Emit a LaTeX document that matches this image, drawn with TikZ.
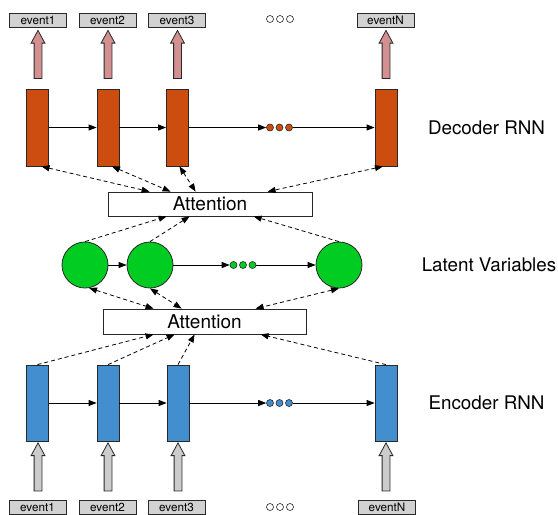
\documentclass[tikz,border=0pt]{standalone}
\usepackage{fontspec}
\setmainfont{TeX Gyre Heros}
\usetikzlibrary{arrows.meta,shapes.arrows}

\definecolor{decfill}{RGB}{205,76,16}
\definecolor{encfill}{RGB}{66,142,206}
\definecolor{latfill}{RGB}{0,204,34}
\definecolor{outpink}{RGB}{210,144,144}
\definecolor{ingray}{RGB}{204,204,204}
\definecolor{boxgray}{RGB}{210,210,210}
\definecolor{edge}{RGB}{40,40,40}

\begin{document}
\begin{tikzpicture}[x=1pt, y=-1pt, line width=0.8pt,
  every node/.style={inner sep=0pt},
  event/.style={draw=edge, fill=boxgray, minimum width=57pt, minimum height=14pt, font=\fontsize{11.7}{12}\selectfont},
  deccell/.style={draw=edge, fill=decfill, minimum width=22pt, minimum height=77pt},
  enccell/.style={draw=edge, fill=encfill, minimum width=22pt, minimum height=76pt},
  latent/.style={circle, draw=edge, fill=latfill, minimum size=46pt},
  attbox/.style={draw=edge, fill=white, font=\fontsize{19}{20}\selectfont},
  label/.style={font=\fontsize{18.8}{20}\selectfont},
  dot/.style={circle, draw=edge, line width=0.6pt, minimum size=7pt},
  bigarrow/.style={single arrow, draw=edge, rotate=90, minimum height=48pt,
    inner xsep=0pt, inner ysep=3.5pt,
    single arrow head extend=3pt, single arrow tip angle=57},
  flow/.style={-{Triangle[length=8pt,width=6pt]}},
  att/.style={dashed, dash pattern=on 4pt off 3pt, -{Triangle[length=8pt,width=6pt]}},
  attboth/.style={att, {Triangle[length=8pt,width=6pt]}-{Triangle[length=8pt,width=6pt]}}]

  \useasboundingbox (0, 0) rectangle (558, 515);

  % outputs
  \node[event] (out1) at ( 38, 20) {event1};
  \node[event] (out2) at (107.5, 20) {event2};
  \node[event] (out3) at (177, 20) {event3};
  \node[event] (outN) at (385.5, 20) {eventN};
  \node[dot] (to1) at (270, 19) {};
  \node[dot] (to2) at (280, 19) {};
  \node[dot] (to3) at (290, 19) {};

  \node[bigarrow, fill=outpink] (oa1) at ( 38, 58) {};
  \node[bigarrow, fill=outpink] (oa2) at (108, 58) {};
  \node[bigarrow, fill=outpink] (oa3) at (177.5, 58) {};
  \node[bigarrow, fill=outpink] (oaN) at (386, 58) {};

  % decoder
  \node[deccell] (dec1) at ( 37.5, 127.5) {};
  \node[deccell] (dec2) at (108, 127.5) {};
  \node[deccell] (dec3) at (177.5, 127.5) {};
  \node[deccell] (decN) at (386, 127.5) {};
  \node[dot, fill=decfill] (dd1) at (270, 127.5) {};
  \node[dot, fill=decfill] (dd2) at (279.5, 127.5) {};
  \node[dot, fill=decfill] (dd3) at (289, 127.5) {};
  \node[label] (declab) at (486.5, 127.5) {Decoder RNN};

  \draw[flow] (dec1) -- (dec2);
  \draw[flow] (dec2) -- (dec3);
  \draw[flow] (dec3) -- (dd1);
  \draw[flow] (dd3) -- (decN);

  % attention over the latent variables
  \node[attbox, minimum width=204pt, minimum height=24pt] (atttop) at (210, 204) {Attention};

  \draw[attboth] ([xshift=4pt]dec1.south) -- ([xshift=42pt]atttop.north west);
  \draw[attboth] ([xshift=4pt]dec2.south) -- ([xshift=63pt]atttop.north west);
  \draw[attboth] ([xshift=2pt]dec3.south) -- ([xshift=88pt]atttop.north west);
  \draw[attboth] ([xshift=-3pt]decN.south) -- ([xshift=160pt]atttop.north west);

  % latent variables
  \node[latent] (lat1) at ( 85, 265) {};
  \node[latent] (lat2) at (150, 265) {};
  \node[latent] (latN) at (339, 265) {};
  \node[dot, fill=latfill] (ld1) at (233.5, 265) {};
  \node[dot, fill=latfill] (ld2) at (243, 265) {};
  \node[dot, fill=latfill] (ld3) at (252.5, 265) {};
  \node[label] (latlab) at (489, 265) {Latent Variables};

  \draw[flow] (lat1) -- (lat2);
  \draw[flow] (lat2) -- (ld1);
  \draw[flow] (ld3) -- (latN);

  \draw[att] (lat1.north) -- ([xshift=59pt]atttop.south west);
  \draw[att] (lat2.north) -- ([xshift=82pt]atttop.south west);
  \draw[att] (latN.north) -- ([xshift=146pt]atttop.south west);

  % attention over the encoder
  \node[attbox, minimum width=203pt, minimum height=25pt] (attbot) at (204.5, 321.5) {Attention};

  \draw[attboth] (lat1.-80) -- ([xshift=51pt]attbot.north west);
  \draw[attboth] (lat2.south) -- ([xshift=79pt]attbot.north west);
  \draw[attboth] (latN.south) -- ([xshift=153pt]attbot.north west);

  % encoder
  \node[enccell] (enc1) at ( 37.5, 403) {};
  \node[enccell] (enc2) at (108, 403) {};
  \node[enccell] (enc3) at (178, 403) {};
  \node[enccell] (encN) at (386, 403) {};
  \node[dot, fill=encfill] (ed1) at (270, 403) {};
  \node[dot, fill=encfill] (ed2) at (279.5, 403) {};
  \node[dot, fill=encfill] (ed3) at (289, 403) {};
  \node[label] (enclab) at (486.5, 403) {Encoder RNN};

  \draw[flow] (enc1) -- (enc2);
  \draw[flow] (enc2) -- (enc3);
  \draw[flow] (enc3) -- (ed1);
  \draw[flow] (ed3) -- (encN);

  \draw[att] (enc1.north) -- ([xshift=51pt]attbot.south west);
  \draw[att] (enc2.north) -- ([xshift=72pt]attbot.south west);
  \draw[att] (enc3.north) -- ([xshift=92pt]attbot.south west);
  \draw[att] (encN.north) -- ([xshift=158pt]attbot.south west);

  % inputs
  \node[bigarrow, fill=ingray] (ia1) at ( 38, 470.5) {};
  \node[bigarrow, fill=ingray] (ia2) at (108, 470.5) {};
  \node[bigarrow, fill=ingray] (ia3) at (178, 470.5) {};
  \node[bigarrow, fill=ingray] (iaN) at (386, 470.5) {};

  \node[event] (in1) at ( 37.5, 507.5) {event1};
  \node[event] (in2) at (107.5, 507.5) {event2};
  \node[event] (in3) at (176.5, 507.5) {event3};
  \node[event] (inN) at (387, 507.5) {eventN};
  \node[dot] (bo1) at (270, 507) {};
  \node[dot] (bo2) at (280, 507) {};
  \node[dot] (bo3) at (290, 507) {};

\end{tikzpicture}
\end{document}
